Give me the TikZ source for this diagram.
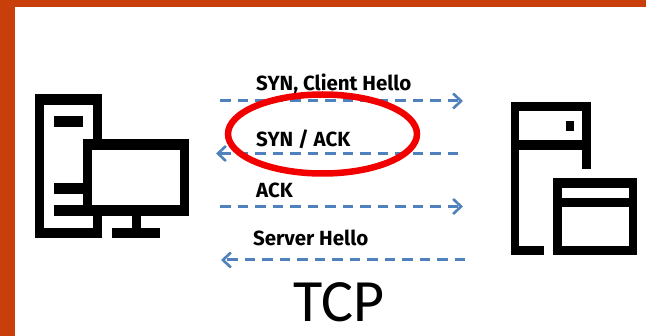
\documentclass[tikz,border=0pt]{standalone}
\usepackage{fontspec}
\setmainfont{Carlito}
\newfontfamily\labelfont{Fira Sans}
\usetikzlibrary{arrows.meta,positioning}

\begin{document}
\begin{tikzpicture}[
            x = 1pt,
            y = -1pt,
            > = {Straight Barb[length=8pt,width=15pt,line width=2.6pt]}, % open arrow head
            message/.style = {draw = msgblue, line width = 3pt, dash pattern = on 10.5pt off 7pt},
            msglabel/.style = {anchor = base west, inner sep = 0pt, font = \labelfont\bfseries\fontsize{20.5}{20.5}\selectfont},
            icon/.style = {fill = black},
            hole/.style = {fill = white}
        ]
        \definecolor{msgblue}{HTML}{4F81BD}
        \definecolor{frame}{HTML}{C93F0C}

        \useasboundingbox (0,0) rectangle (646,336);

        % slide
        \fill[frame] (0,0) rectangle (646,336);
        \fill[white] (15,7) rectangle (646,336);

        % client
        \fill[icon] (34.5,94.5) rectangle (102,238);
        \fill[hole] (44,105) rectangle (92.5,228);
        \fill[icon] (53.5,116) rectangle (83,127);
        \fill[icon] (53.5,183) rectangle (92,194);
        \fill[icon] (53.5,205) rectangle (92,216);
        \fill[icon] (83,139) rectangle (189,216);
        \fill[hole] (92,150) rectangle (180,205);
        \fill[icon] (131.5,216) rectangle (141,228);
        \fill[icon] (112,228) rectangle (160,238);

        % server
        \fill[icon] (510.5,102) rectangle (590.5,150);
        \fill[hole] (519,111) rectangle (582,140);
        \fill[icon] (565.5,121) rectangle (574,131);
        \fill[icon] (582,150) rectangle (590.5,169.5);
        \fill[icon] (510.5,150) rectangle (519,255.5);
        \fill[icon] (519,246.5) rectangle (544,255.5);
        \fill[icon] (552.5,178.5) rectangle (636.5,255.5);
        \fill[hole] (561.5,188) rectangle (628.5,198);
        \fill[hole] (561.5,207.5) rectangle (628.5,246.5);

        \coordinate (syn1) at (220,101);
        \coordinate (syn2) at (463,101);
        \coordinate (ack1) at (458,153.5);
        \coordinate (ack2) at (216,153.5);
        \coordinate (fin1) at (220,206.5);
        \coordinate (fin2) at (463,206.5);
        \coordinate (srv1) at (465,260);
        \coordinate (srv2) at (221,260);

        \draw[message,->] (syn1) -- (syn2);
        \draw[message,->] (ack1) -- (ack2);
        \draw[message,->] (fin1) -- (fin2);
        \draw[message,->] (srv1) -- (srv2);

        \node[msglabel] (synlabel) at (256,91) {SYN, Client Hello};
        \node[msglabel] (acklabel) at (256,147) {SYN / ACK};
        \node[msglabel] (finlabel) at (256,198) {ACK};
        \node[msglabel] (srvlabel) at (253,246) {Server Hello};

        \draw[red!95!black, line width = 6.5pt] (322.5,134) ellipse [x radius = 94.5, y radius = 39.5];

        \node[anchor = base west, inner sep = 0pt, font = \fontsize{60}{60}\selectfont] (tcp) at (293,322) {TCP};
\end{tikzpicture}
\end{document}
